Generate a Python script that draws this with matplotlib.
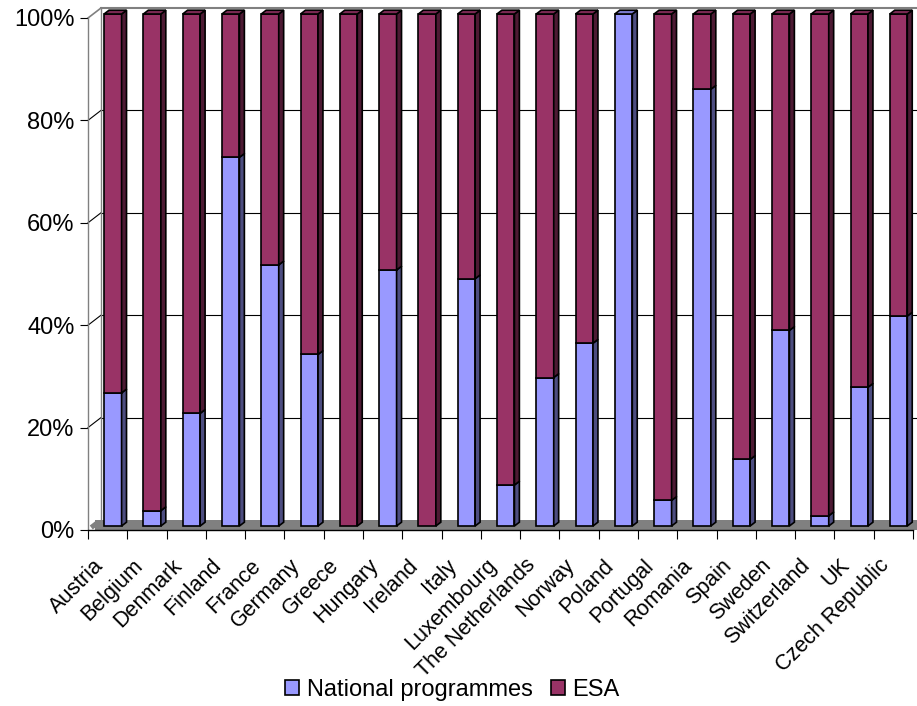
import numpy as np
import matplotlib
matplotlib.use("Agg")
import matplotlib.pyplot as plt
from matplotlib.patches import Polygon, Patch
from matplotlib.transforms import ScaledTranslation

plt.rcParams['font.family'] = ['Liberation Sans', 'DejaVu Sans']

# ---- data ----
countries = ["Austria", "Belgium", "Denmark", "Finland", "France", "Germany",
             "Greece", "Hungary", "Ireland", "Italy", "Luxembourg",
             "The Netherlands", "Norway", "Poland", "Portugal", "Romania",
             "Spain", "Sweden", "Switzerland", "UK", "Czech Republic"]
national = [26, 3, 22, 72, 51, 33.5, 0, 50, 0, 48.3, 8, 29, 35.7, 100, 5,
            85.3, 13, 38.2, 2, 27.1, 41]
esa = [100 - v for v in national]
series_names = ["National programmes", "ESA"]
yticks = [0, 20, 40, 60, 80, 100]
ytick_labels = ["0%", "20%", "40%", "60%", "80%", "100%"]

# ---- styles ----
blue_front, blue_side, blue_top = "#9999FF", "#4D4D80", "#7A7ACC"
red_front, red_side, red_top = "#993366", "#4D1A33", "#7A2952"

W, H = 917, 706
fig = plt.figure(figsize=(W / 100, H / 100), dpi=100)
ax = fig.add_axes([88 / W, 176 / H, 825 / W, 512 / H])
n = len(countries)
ax.set_xlim(-0.5, n - 0.5)
ax.set_ylim(0, 100)
ax.set_autoscale_on(False)

# pixel -> data conversions for the pseudo-3D depth
px_x = 825 / n          # px per category
px_y = 512 / 100        # px per percent
Dx, Dy = 13 / px_x, 10 / px_y   # full depth of the plot box
xr_lim = n - 0.5 + 3.5 / px_x   # right edge of the canvas in data units

for s in ["top", "right"]:
    ax.spines[s].set_visible(False)
ax.spines["left"].set_color("#808080")
ax.spines["left"].set_linewidth(1.0)
ax.spines["bottom"].set_color("black")
ax.spines["bottom"].set_linewidth(1.0)
ax.spines["bottom"].set_zorder(6)

# floor drawn as a thick band line plus the slanted left end
ax.plot([-0.5 + Dx / 2, xr_lim], [Dy / 2, Dy / 2], color="#808080",
        lw=10 * 0.72, solid_capstyle="butt", zorder=2, clip_on=False)
ax.plot([-0.5 + Dx * 0.25, -0.5 + Dx * 0.75], [Dy * 0.25, Dy * 0.75],
        color="#808080", lw=5 * 0.72, solid_capstyle="butt", zorder=2,
        clip_on=False)

# back wall gridlines and side-wall diagonals
for v in yticks[1:]:
    col = "#808080" if v == 100 else "black"
    lw = 1.5 if v == 100 else 0.8
    ax.plot([-0.5 + Dx, xr_lim], [v + Dy, v + Dy], color=col, lw=lw,
            clip_on=False, zorder=1.5)
    ax.plot([-0.5, -0.5 + Dx], [v, v + Dy], color=col, lw=0.8 if v < 100 else 1.2,
            clip_on=False, zorder=1.5)
ax.plot([-0.5 + Dx, -0.5 + Dx], [Dy, 100 + Dy], color="#808080", lw=1.0,
        clip_on=False, zorder=1.5)

# bars
x = np.arange(n)
fx, fy = 0.4 * Dx, 0.4 * Dy
bw = 0.445
dx, dy = 0.38 * Dx, 0.38 * Dy
lw = 1.2

nat = np.array(national, dtype=float)
es = np.array(esa, dtype=float)

for i in range(n):
    segs = [(0.0, nat[i], blue_front, blue_side, blue_top),
            (nat[i], es[i], red_front, red_side, red_top)]
    xl = x[i] + fx - bw / 2
    xr = x[i] + fx + bw / 2
    top_seg = None
    for b, h, fc, sc, tc in segs:
        if h <= 0:
            continue
        ax.bar(x[i] + fx, h, width=bw, bottom=fy + b, color=fc,
               edgecolor="black", linewidth=lw, zorder=3, clip_on=False)
        ax.add_patch(Polygon([(xr, fy + b), (xr + dx, fy + b + dy),
                              (xr + dx, fy + b + h + dy), (xr, fy + b + h)],
                             closed=True, facecolor=sc, edgecolor="black",
                             linewidth=lw, zorder=3, clip_on=False))
        top_seg = (b, h, tc)
    if top_seg is not None:
        b, h, tc = top_seg
        t = fy + b + h
        ax.add_patch(Polygon([(xl, t), (xr, t), (xr + dx, t + dy), (xl + dx, t + dy)],
                             closed=True, facecolor=tc, edgecolor="black",
                             linewidth=lw, zorder=3, clip_on=False))

ax.set_xlim(-0.5, n - 0.5)
ax.set_ylim(0, 100)

# y axis
ax.set_yticks(yticks)
ax.set_yticklabels(ytick_labels)
ax.tick_params(axis="y", length=5.8, width=0.8, color="black", pad=4,
               labelsize=17, direction="out")

# x axis: ticks at category boundaries, rotated labels as text
ax.set_xticks(np.arange(-0.5, n, 1.0))
ax.set_xticklabels([])
ax.tick_params(axis="x", length=6.5, width=0.8, color="black", direction="out")
off = ScaledTranslation(-0.15, -0.25, fig.dpi_scale_trans)
for i, c in enumerate(countries):
    ax.text(x[i], 0, c, rotation=45, ha="right", va="top",
            rotation_mode="anchor", fontsize=15.5, transform=ax.transData + off)

# legend
handles = [Patch(facecolor=blue_front, edgecolor="black", linewidth=1.2),
           Patch(facecolor=red_front, edgecolor="black", linewidth=1.2)]
fig.legend(handles, series_names, loc="center", bbox_to_anchor=(0.4935, 0.0227),
           ncol=2, frameon=False, fontsize=17, handlelength=0.6,
           handleheight=0.6, handletextpad=0.3, columnspacing=0.8,
           borderaxespad=0, borderpad=0)

fig.savefig("out.png", dpi=100)
